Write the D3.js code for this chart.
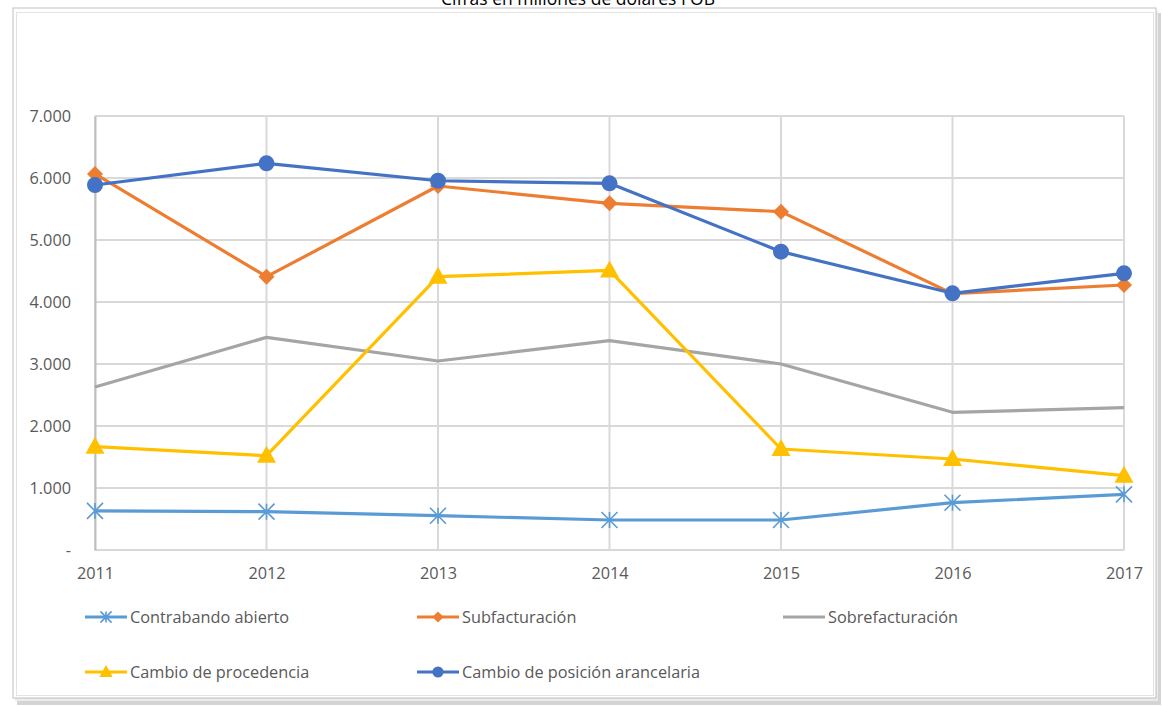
<!DOCTYPE html>
<html>
<head>
<meta charset="utf-8">
<script src="https://cdn.jsdelivr.net/npm/d3@7"></script>
<style>
  body { margin: 0; background: #fff; }
  svg { display: block; font-family: "Open Sans", "Noto Sans", sans-serif; }
</style>
</head>
<body>
<svg id="chart" width="1162" height="706"></svg>
<script>
// Data
var years = ["2011", "2012", "2013", "2014", "2015", "2016", "2017"];
var contrabando = [630, 618, 553, 484, 484, 763, 898];
var subfacturacion = [6065, 4408, 5871, 5592, 5457, 4135, 4274];
var sobrefacturacion = [2629, 3430, 3048, 3376, 3000, 2221, 2295];
var procedencia = [1666, 1521, 4408, 4510, 1629, 1468, 1199];
var posicion = [5887, 6237, 5956, 5914, 4812, 4140, 4463];
var y_ticks = [0, 1000, 2000, 3000, 4000, 5000, 6000, 7000];

var series = [
    {name: "Contrabando abierto", values: contrabando, color: "#5B9BD5", marker: "star"},
    {name: "Subfacturación", values: subfacturacion, color: "#ED7D31", marker: "diamond"},
    {name: "Sobrefacturación", values: sobrefacturacion, color: "#A5A5A5", marker: "none"},
    {name: "Cambio de procedencia", values: procedencia, color: "#FFC000", marker: "triangle"},
    {name: "Cambio de posición arancelaria", values: posicion, color: "#4472C4", marker: "circle"}
];

// Layout
var p_left = 95;
var p_right = 1124;
var p_top = 116;
var p_bot = 550;
var font_size = "16.3px";
var text_color = "#595959";

var svg = d3.select("#chart");

// Frame with shadow
svg.append("rect").attr("x", 17).attr("y", 13).attr("width", 1144).attr("height", 692)
    .attr("fill", "#d4d4d4");
svg.append("rect").attr("x", 15).attr("y", 11).attr("width", 1143).attr("height", 690)
    .attr("fill", "#ebebeb");
svg.append("rect").attr("x", 13).attr("y", 8).attr("width", 1143).attr("height", 690)
    .attr("fill", "#fff").attr("stroke", "#bfbfbf").attr("stroke-width", 1);
svg.append("rect").attr("x", 16.5).attr("y", 12.5).attr("width", 1137).attr("height", 683)
    .attr("fill", "none").attr("stroke", "#e3e3e3").attr("stroke-width", 1);

// Title (cut off at top, as in the source image)
svg.append("text")
    .attr("x", 578).attr("y", 5)
    .attr("text-anchor", "middle")
    .attr("fill", "#000")
    .style("font-size", "17.5px")
    .text("Cifras en millones de dólares FOB");

// Scales
var x_scale = d3.scalePoint().domain(years).range([p_left, p_right]);
var y_scale = d3.scaleLinear().domain([0, 7000]).range([p_bot, p_top]);

// Grid
var grid = svg.append("g");
grid.selectAll(".hgrid").data(y_ticks).enter().append("line")
    .attr("x1", p_left).attr("x2", p_right)
    .attr("y1", d => y_scale(d)).attr("y2", d => y_scale(d))
    .attr("stroke", "#d9d9d9").attr("stroke-width", 2);
grid.selectAll(".vgrid").data(years).enter().append("line")
    .attr("x1", d => x_scale(d)).attr("x2", d => x_scale(d))
    .attr("y1", p_top).attr("y2", p_bot)
    .attr("stroke", "#d9d9d9").attr("stroke-width", 2);

// Axes
var y_axis = svg.append("g")
    .attr("transform", "translate(" + p_left + ", 0)")
    .call(d3.axisLeft(y_scale)
        .tickValues(y_ticks)
        .tickFormat(d => d === 0 ? "-" : d3.format(",")(d).replace(/,/g, "."))
        .tickSize(0)
        .tickPadding(24));
y_axis.attr("font-family", null).attr("font-size", null);
y_axis.select(".domain").attr("stroke", "#bfbfbf").attr("stroke-width", 2);
y_axis.selectAll("text").attr("fill", text_color).style("font-size", font_size);

var x_axis = svg.append("g")
    .attr("transform", "translate(0, " + p_bot + ")")
    .call(d3.axisBottom(x_scale).tickSize(0).tickPadding(17));
x_axis.attr("font-family", null).attr("font-size", null);
x_axis.select(".domain").remove();
x_axis.selectAll("text").attr("fill", text_color).style("font-size", font_size);

// Markers
function drawMarker(g, type, color, cx, cy, k)
{
    var t = "translate(" + cx + "," + cy + ") scale(" + k + ")";
    if (type === "circle") {
        g.append("circle").attr("cx", cx).attr("cy", cy).attr("r", 8 * k).attr("fill", color);
    } else if (type === "diamond") {
        g.append("path").attr("transform", t)
            .attr("d", "M0,-8L8,0L0,8L-8,0Z").attr("fill", color);
    } else if (type === "triangle") {
        g.append("path").attr("transform", t)
            .attr("d", "M0,-10L9.5,7L-9.5,7Z").attr("fill", color);
    } else if (type === "star") {
        g.append("path").attr("transform", t)
            .attr("d", "M0,-8V8M-8,-8L8,8M8,-8L-8,8")
            .attr("stroke", color).attr("stroke-width", 1.6 / k).attr("fill", "none");
    }
}

// Lines
var line = d3.line().x((d, i) => x_scale(years[i])).y(d => y_scale(d));
var lines_group = svg.append("g");
series.forEach(function(s) {
    var g = lines_group.append("g");
    g.append("path").datum(s.values)
        .attr("d", line)
        .attr("fill", "none")
        .attr("stroke", s.color)
        .attr("stroke-width", 3.2)
        .attr("stroke-linejoin", "round");
    s.values.forEach(function(v, i) {
        drawMarker(g, s.marker, s.color, x_scale(years[i]), y_scale(v), 1);
    });
});

// Legend
var legend_pos = [
    {x: 85, y: 617}, {x: 417, y: 617}, {x: 783, y: 617},
    {x: 85, y: 672}, {x: 417, y: 672}
];
var legend = svg.append("g");
series.forEach(function(s, i) {
    var g = legend.append("g").attr("transform", "translate(" + legend_pos[i].x + "," + legend_pos[i].y + ")");
    g.append("line").attr("x1", 0).attr("x2", 42).attr("y1", 0).attr("y2", 0)
        .attr("stroke", s.color).attr("stroke-width", 3.2);
    drawMarker(g, s.marker, s.color, 21, 0, 0.7);
    g.append("text")
        .attr("x", 45).attr("y", 0).attr("dy", "0.35em")
        .attr("fill", text_color)
        .style("font-size", font_size)
        .text(s.name);
});
</script>
</body>
</html>
